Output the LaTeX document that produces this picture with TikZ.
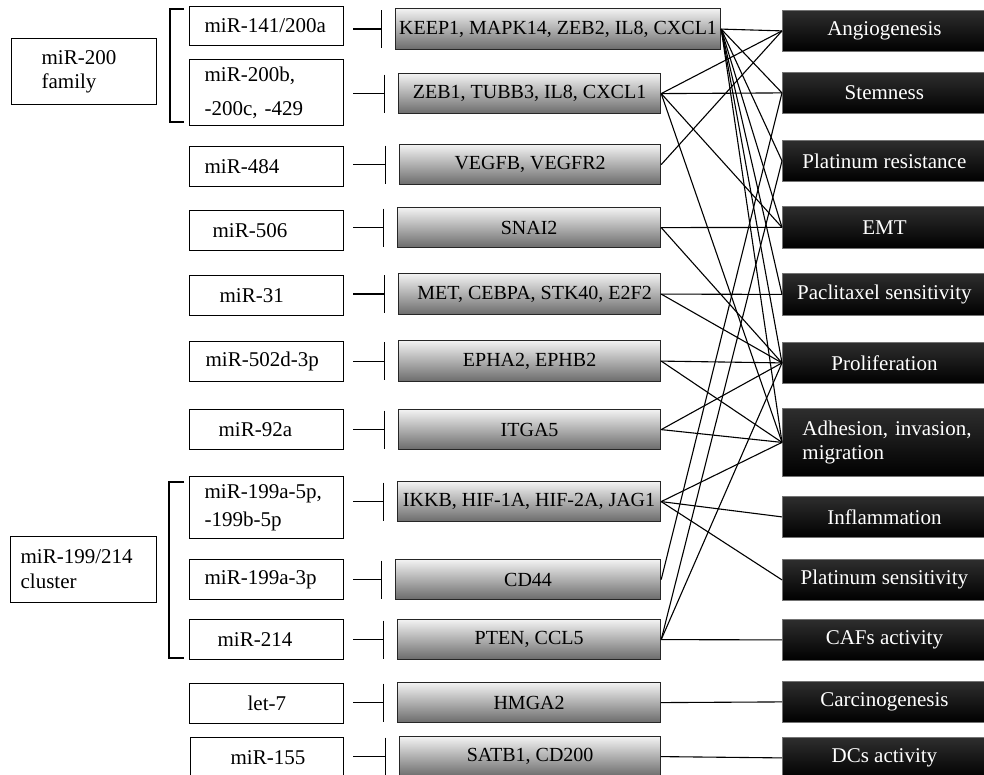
\documentclass[tikz,border=0pt]{standalone}
\usepackage{fontspec}
\setmainfont{Liberation Serif}
\usetikzlibrary{arrows.meta,calc}
\begin{document}
\begin{tikzpicture}[x=1pt,y=-1pt,
  every node/.style={font=\fontsize{20}{23}\selectfont},
  mirbox/.style={draw=black,line width=1.2pt,fill=white,anchor=north west,inner xsep=0pt,inner ysep=0pt,text width=154pt,align=left,font=\fontsize{21}{24}\selectfont},
  grpbox/.style={draw=black,line width=1.2pt,fill=white,anchor=north west,inner xsep=0pt,inner ysep=0pt,text width=145pt,align=left,font=\fontsize{21}{24}\selectfont},
  tgtbox/.style={draw=black!85,line width=1.2pt,top color=black!5,bottom color=black!58,anchor=north west,inner sep=0pt,align=center},
  outbox/.style={draw=black!55,line width=0.8pt,top color=black!82,bottom color=black,text=white,anchor=north west,inner sep=0pt,minimum width=204pt,align=center,font=\fontsize{21}{24}\selectfont},
  inhib/.style={line width=1.2pt,-{Bar[width=38pt,line width=1.4pt]}},
  link/.style={line width=1.1pt},
  brk/.style={line width=1.2pt}
]
\fill[white] (0,0) rectangle (984,775);
\useasboundingbox (0,0) rectangle (984,775);

% group boxes
\node[grpbox,minimum height=66pt] (g200) at (11,38) {\hspace*{30pt}miR-200\\[0pt]\hspace*{30pt}family};
\node[grpbox,minimum height=66pt,text width=146pt] (g199) at (10,536) {\hspace*{10pt}miR-199/214\\[1pt]\hspace*{10pt}cluster};

% brackets
\draw[brk] (184,9) -- (170,9) -- (170,122) -- (184,122);
\draw[brk] (184,482) -- (169,482) -- (169,658) -- (184,658);

% miRNA boxes
\node[mirbox,minimum height=39pt] (m1) at (189,6) {\hspace*{15pt}miR-141/200a};
\node[mirbox,minimum height=66pt] (m2) at (189,59) {\hspace*{15pt}miR-200b,\\[10pt]\hspace*{15pt}-200c, -429};
\node[mirbox,minimum height=40pt] (m3) at (189,146) {\hspace*{15pt}miR-484};
\node[mirbox,minimum height=40pt] (m4) at (189,210) {\hspace*{23pt}miR-506};
\node[mirbox,minimum height=40pt] (m5) at (189,275) {\hspace*{30pt}miR-31};
\node[mirbox,minimum height=40pt] (m6) at (189,341) {\hspace*{16pt}miR-502d-3p};
\node[mirbox,minimum height=40pt] (m7) at (189,409) {\hspace*{29pt}miR-92a};
\node[mirbox,minimum height=62pt] (m8) at (189,476) {\hspace*{15pt}miR-199a-5p,\\[4pt]\hspace*{15pt}-199b-5p};
\node[mirbox,minimum height=40pt] (m9) at (189,559) {\hspace*{15pt}miR-199a-3p};
\node[mirbox,minimum height=40pt] (m10) at (189,619) {\hspace*{28pt}miR-214};
\node[mirbox,minimum height=40pt] (m11) at (189,683) {\hspace*{58pt}let-7};
\node[mirbox,minimum height=40pt,text width=153pt] (m12) at (190,737) {\hspace*{40pt}miR-155};

% target boxes
\node[tgtbox,minimum width=325pt,minimum height=41pt] (t1) at (395,8) {KEEP1, MAPK14, ZEB2, IL8, CXCL1};
\node[tgtbox,minimum width=262pt,minimum height=40pt] (t2) at (398,73) {ZEB1, TUBB3, IL8, CXCL1};
\node[tgtbox,minimum width=261pt,minimum height=40pt] (t3) at (399,144) {VEGFB, VEGFR2};
\node[tgtbox,minimum width=263pt,minimum height=40pt] (t4) at (397,207) {SNAI2};
\node[tgtbox,minimum width=262pt,minimum height=41pt] (t5) at (398,273) {\hspace*{10pt}MET, CEBPA, STK40, E2F2};
\node[tgtbox,minimum width=262pt,minimum height=41pt] (t6) at (398,340) {EPHA2, EPHB2};
\node[tgtbox,minimum width=262pt,minimum height=40pt] (t7) at (398,409) {ITGA5};
\node[tgtbox,minimum width=263pt,minimum height=40pt] (t8) at (397,481) {IKKB, HIF-1A, HIF-2A, JAG1};
\node[tgtbox,minimum width=265pt,minimum height=40pt] (t9) at (395,559) {CD44};
\node[tgtbox,minimum width=263pt,minimum height=40pt] (t10) at (397,619) {PTEN, CCL5};
\node[tgtbox,minimum width=263pt,minimum height=40pt] (t11) at (397,682) {HMGA2};
\node[tgtbox,minimum width=261pt,minimum height=40pt] (t12) at (399,736) {SATB1, CD200};

% outcome boxes
\node[outbox,minimum height=41pt] (r1) at (782,10) {Angiogenesis};
\node[outbox,minimum height=41pt] (r2) at (782,72) {Stemness};
\node[outbox,minimum height=41pt] (r3) at (782,140) {Platinum resistance};
\node[outbox,minimum height=42pt] (r4) at (782,206) {EMT};
\node[outbox,minimum height=42pt] (r5) at (782,273) {Paclitaxel sensitivity};
\node[outbox,minimum height=41pt] (r6) at (782,342) {Proliferation};
\node[outbox,minimum height=68pt,text width=204pt,align=left] (r7) at (782,408) {\hspace*{20pt}Adhesion, invasion,\\\hspace*{20pt}migration};
\node[outbox,minimum height=41pt] (r8) at (782,496) {Inflammation};
\node[outbox,minimum height=41pt] (r9) at (782,559) {Platinum sensitivity};
\node[outbox,minimum height=41pt] (r10) at (782,619) {CAFs activity};
\node[outbox,minimum height=41pt] (r11) at (782,681) {Carcinogenesis};
\node[outbox,minimum height=41pt] (r12) at (782,737) {DCs activity};

% inhibition connectors
\foreach \i in {1,...,12}{
  \draw[inhib] ($(m\i.east |- t\i.west)+(9,0)$) -- ($(t\i.west)+(-13,0)$);
}

% links target -> outcome
\foreach \a/\b in {t1/r1,t1/r2,t1/r3,t1/r4,t1/r5,t1/r6,t1/r7,
                   t2/r1,t2/r2,t2/r4,t2/r7,
                   t3/r1,
                   t4/r4,t4/r6,
                   t5/r5,t5/r6,
                   t6/r6,t6/r7,
                   t7/r6,t7/r7,
                   t8/r7,t8/r8,t8/r9,
                   t9/r2,
                   t10/r3,t10/r6,t10/r10,
                   t11/r11,
                   t12/r12}{
  \draw[link] (\a.east) -- (\b.west);
}
\end{tikzpicture}
\end{document}
